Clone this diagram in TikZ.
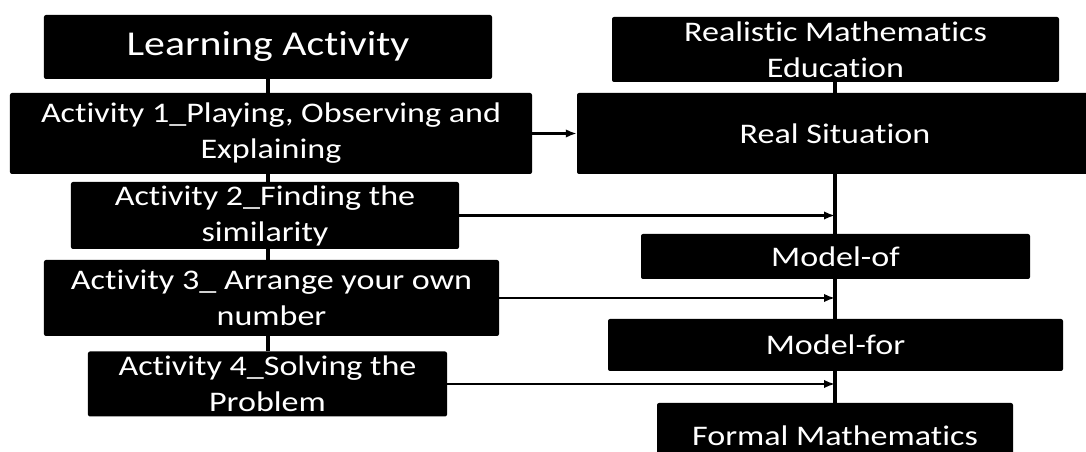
\documentclass[tikz,border=0pt]{standalone}
\usepackage{fontspec}
\setmainfont{Carlito}[FakeStretch=1.2,Ligatures=NoCommon]
\usetikzlibrary{arrows.meta}
\begin{document}
\begin{tikzpicture}[x=1bp,y=-1bp,
  blk/.style={fill=black,text=white,rounded corners=2bp,inner sep=0pt,align=center,font=\fontsize{28.5}{36}\selectfont},
  spine/.style={line width=3.5bp},
  feed/.style={line width=2.2bp,-{Latex[length=11bp,width=8.5bp]}}]
\path[use as bounding box] (0,0) rectangle (1086,452);
\node[blk,minimum width=448bp,minimum height=64bp,font=\fontsize{35}{40}\selectfont] (learn) at (268,47) {Learning Activity};
\node[blk,minimum width=522bp,minimum height=81bp] (act1) at (271,133.5) {Activity 1\_Playing, Observing and\\Explaining};
\node[blk,minimum width=388bp,minimum height=67bp] (act2) at (265,215.5) {Activity 2\_Finding the\\similarity};
\node[blk,minimum width=455bp,minimum height=76bp] (act3) at (271.5,298) {Activity 3\_ Arrange your own\\number};
\node[blk,minimum width=359bp,minimum height=65bp] (act4) at (267.5,384) {Activity 4\_Solving the\\Problem};
\node[blk,minimum width=447bp,minimum height=65bp] (rme) at (835.5,49.5) {Realistic Mathematics\\Education};
\node[blk,minimum width=516bp,minimum height=81bp] (real) at (835,133.5) {Real Situation};
\node[blk,minimum width=389bp,minimum height=45bp] (modelof) at (835.5,256.5) {Model-of};
\node[blk,minimum width=455bp,minimum height=52bp] (modelfor) at (835.5,345) {Model-for};
\node[blk,minimum width=356bp,minimum height=66bp] (formal) at (835,436) {Formal Mathematics};
\foreach \a/\b in {learn/act1,act1/act2,act2/act3,act3/act4}
  \draw[spine] (\a.south -| learn) -- (\b.north -| learn);
\foreach \a/\b in {rme/real,real/modelof,modelof/modelfor,modelfor/formal}
  \draw[spine] (\a.south -| real) -- (\b.north -| real);
\draw[feed] (act1.east) -- (real.west);
\foreach \n in {act2,act3,act4}
  \draw[feed] (\n.east) -- (\n.east -| real);
\end{tikzpicture}
\end{document}
